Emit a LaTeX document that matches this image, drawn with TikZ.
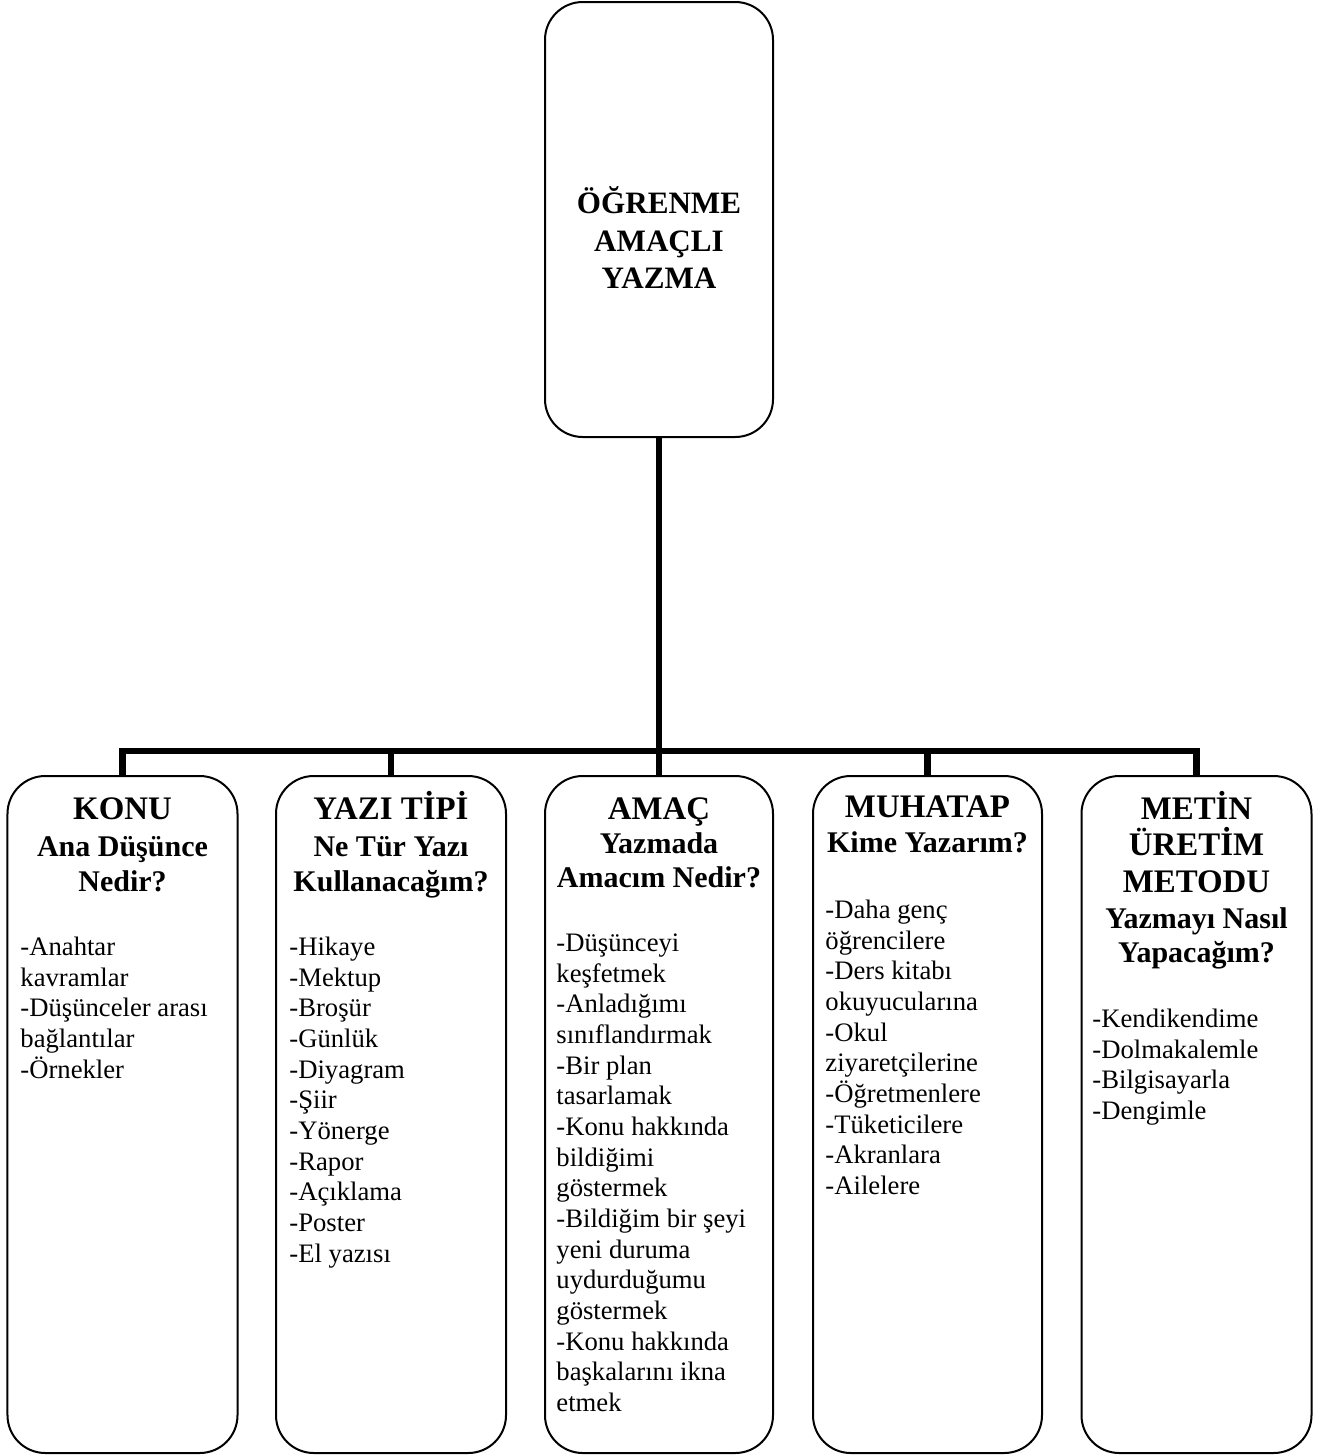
\documentclass[tikz,border=0pt]{standalone}
\usepackage{fontspec}
\setmainfont{Liberation Serif}
\newcommand{\fstrut}{\rule{0pt}{1em}}
\begin{document}
\begin{tikzpicture}[x=0.45pt,y=-0.45pt,
  boxnode/.style={draw, line width=0.9pt, rounded corners=17pt, inner sep=0pt,
    minimum width=103.5pt, minimum height=304.65pt},
  topbox/.style={draw, line width=0.9pt, rounded corners=17pt, inner sep=0pt,
    minimum width=102.6pt, minimum height=195.75pt},
  link/.style={line width=2.9pt},
  ttl/.style={font=\fontsize{14}{16.9}\selectfont\bfseries, align=center, inner sep=0pt, anchor=north},
  hdr/.style={font=\fontsize{14.8}{16.4}\selectfont\bfseries, align=center, inner sep=0pt, anchor=north},
  sub/.style={font=\fontsize{13.5}{15.4}\selectfont\bfseries, align=center, inner sep=0pt, anchor=north},
  body/.style={font=\fontsize{12}{13.8}\selectfont, align=left, inner sep=0pt, anchor=north west}]
\useasboundingbox (0,0) rectangle (1329,1456);

% boxes
\node[topbox] (top) at (659,219.5) {};
\node[boxnode] (konu) at (122.5,1114.5) {};
\node[boxnode] (yazi) at (391,1114.5) {};
\node[boxnode, minimum width=102.6pt] (amac) at (659,1114.5) {};
\node[boxnode, minimum width=103.05pt] (muhatap) at (927.5,1114.5) {};
\node[boxnode] (metin) at (1196.5,1114.5) {};

% connectors
\coordinate (hub) at (659,751);
\draw[link] (top.south) -- (hub);
\draw[link] (hub) -| (konu.north);
\draw[link] (hub) -| (yazi.north);
\draw[link] (hub) -- (amac.north);
\draw[link] (hub) -| (muhatap.north);
\draw[link] (hub) -| (metin.north);

% title
\node[ttl] (title) at (659,182) {\fstrut ÖĞRENME\\AMAÇLI\\YAZMA};

% KONU
\node[hdr] (konuH) at (122.5,786) {\fstrut KONU};
\node[sub] (konuS) at (122.5,826.5) {\fstrut Ana Düşünce\\Nedir?};
\node[body] (konuB) at (20,928.3) {\fstrut -Anahtar\\kavramlar\\-Düşünceler arası\\bağlantılar\\-Örnekler};

% YAZI TIPI
\node[hdr] (yaziH) at (391,786) {\fstrut YAZI TİPİ};
\node[sub] (yaziS) at (391,826.5) {\fstrut Ne Tür Yazı\\Kullanacağım?};
\node[body] (yaziB) at (289,928.3) {\fstrut -Hikaye\\-Mektup\\-Broşür\\-Günlük\\-Diyagram\\-Şiir\\-Yönerge\\-Rapor\\-Açıklama\\-Poster\\-El yazısı};

% AMAC
\node[hdr] (amacH) at (659,786) {\fstrut AMAÇ};
\node[sub] (amacS) at (659,823) {\fstrut Yazmada\\Amacım Nedir?};
\node[body] (amacB) at (556,924.3) {\fstrut -Düşünceyi\\keşfetmek\\-Anladığımı\\sınıflandırmak\\-Bir plan\\tasarlamak\\-Konu hakkında\\bildiğimi\\göstermek\\-Bildiğim bir şeyi\\yeni duruma\\uydurduğumu\\göstermek\\-Konu hakkında\\başkalarını ikna\\etmek};

% MUHATAP
\node[hdr] (muhatapH) at (927.5,784) {\fstrut MUHATAP};
\node[sub] (muhatapS) at (927.5,822.5) {\fstrut Kime Yazarım?};
\node[body] (muhatapB) at (825,891.3) {\fstrut -Daha genç\\öğrencilere\\-Ders kitabı\\okuyucularına\\-Okul\\ziyaretçilerine\\-Öğretmenlere\\-Tüketicilere\\-Akranlara\\-Ailelere};

% METIN URETIM METODU
\node[hdr] (metinH) at (1196.5,786) {\fstrut METİN\\ÜRETİM\\METODU};
\node[sub] (metinS) at (1196.5,898) {\fstrut Yazmayı Nasıl\\Yapacağım?};
\node[body] (metinB) at (1092,1000.3) {\fstrut -Kendikendime\\-Dolmakalemle\\-Bilgisayarla\\-Dengimle};
\end{tikzpicture}
\end{document}
